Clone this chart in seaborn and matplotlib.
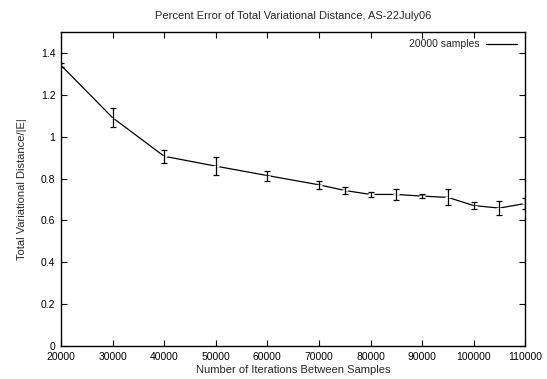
import matplotlib
matplotlib.use("Agg")
import matplotlib.pyplot as plt
import seaborn as sns
import numpy as np
import pandas as pd

iterations = [20000, 30000, 40000, 50000, 60000, 70000, 75000, 80000,
              85000, 90000, 95000, 100000, 105000, 110000]
tv_distance = [1.340, 1.090, 0.906, 0.859, 0.814, 0.770, 0.743, 0.724,
               0.724, 0.716, 0.710, 0.671, 0.659, 0.681]
tv_error = [0.010, 0.044, 0.032, 0.043, 0.024, 0.020, 0.015, 0.010,
            0.025, 0.010, 0.038, 0.018, 0.032, 0.025]
x_ticks = [20000, 30000, 40000, 50000, 60000, 70000, 80000, 90000, 100000, 110000]
y_ticks = [0, 0.2, 0.4, 0.6, 0.8, 1.0, 1.2, 1.4]
y_tick_labels = ["0", "0.2", "0.4", "0.6", "0.8", "1", "1.2", "1.4"]

df = pd.DataFrame({"iter": iterations, "tv": tv_distance, "err": tv_error})

sns.set_style("ticks")
plt.rcParams["font.family"] = ["Liberation Sans", "DejaVu Sans"]

fig = plt.figure(figsize=(5.47, 3.79), dpi=100)
ax = fig.add_axes([0.1115, 0.0863, 0.8488, 0.8301])

sns.lineplot(data=df, x="iter", y="tv", ax=ax, color="black", lw=0.9,
             marker="+", markersize=4, markeredgewidth=0.9,
             label="20000 samples")
ax.errorbar(df["iter"], df["tv"], yerr=df["err"], fmt="none",
            ecolor="black", elinewidth=0.9, capsize=2.2, capthick=0.9)

ax.set_xlim(20000, 110000)
ax.set_ylim(0, 1.5)
ax.set_xticks(x_ticks)
ax.set_xticklabels([str(t) for t in x_ticks])
ax.set_yticks(y_ticks)
ax.set_yticklabels(y_tick_labels)
ax.tick_params(direction="in", length=4, width=0.8, labelsize=7.5,
               top=True, right=True, pad=4, colors="black")
for s in ax.spines.values():
    s.set_visible(True)
    s.set_linewidth(1.0)
    s.set_color("black")

ax.set_xlabel("Number of Iterations Between Samples", fontsize=8, labelpad=2)
ax.set_ylabel("Total Variational Distance/|E|", fontsize=8, labelpad=10)
ax.set_title("Percent Error of Total Variational Distance, AS-22July06",
             fontsize=8, pad=9)

leg = ax.legend(loc="upper right", frameon=False, fontsize=7.5,
                markerfirst=False, handlelength=3.0, handletextpad=0.65,
                borderaxespad=0.35)
for h in leg.legend_handles:
    h.set_marker("")

fig.savefig("out.png", dpi=100)
